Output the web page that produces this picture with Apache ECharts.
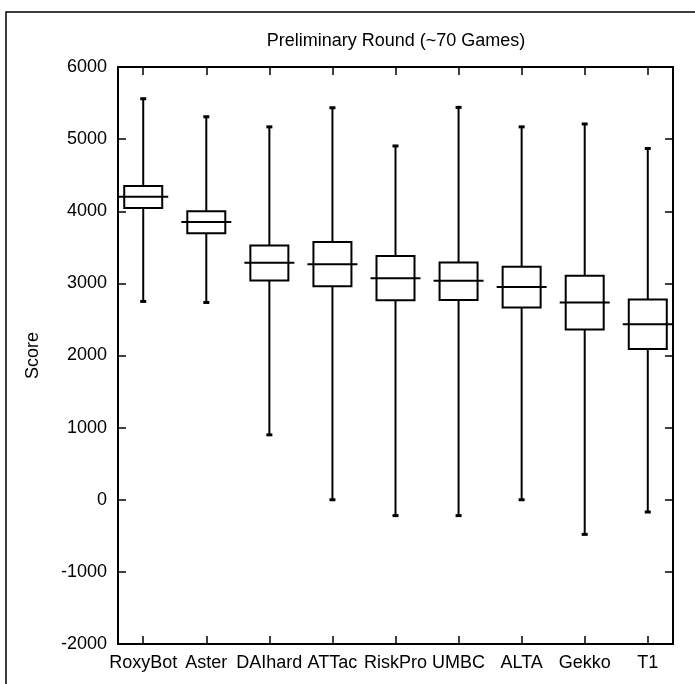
<!DOCTYPE html>
<html>
<head>
<meta charset="utf-8">
<script src="https://cdn.jsdelivr.net/npm/echarts@6/dist/echarts.min.js"></script>
<style>
  html, body { margin: 0; padding: 0; background: #fff; }
  #chart { width: 695px; height: 684px; }
</style>
</head>
<body>
<div id="chart"></div>
<script>
// box stats, one entry per team
var teams = ['RoxyBot', 'Aster', 'DAIhard', 'ATTac', 'RiskPro', 'UMBC', 'ALTA', 'Gekko', 'T1'];
var minVals = [2750, 2735, 900, 0, -220, -220, 0, -480, -170];
var q1Vals = [4045, 3695, 3040, 2960, 2765, 2770, 2665, 2360, 2090];
var medVals = [4200, 3850, 3285, 3265, 3070, 3035, 2950, 2735, 2435];
var q3Vals = [4350, 4000, 3525, 3575, 3380, 3290, 3230, 3105, 2775];
var maxVals = [5560, 5310, 5170, 5435, 4905, 5440, 5170, 5210, 4870];
var yTicks = [-2000, -1000, 0, 1000, 2000, 3000, 4000, 5000, 6000];

var positions = teams.map(function (t, i) { return i + 1; });
var boxData = teams.map(function (t, i) {
  return [i + 1, minVals[i], q1Vals[i], medVals[i], q3Vals[i], maxVals[i]];
});

var font = 'Liberation Sans, Arial, Helvetica, sans-serif';
var chart = echarts.init(document.getElementById('chart'), null, { renderer: 'canvas' });

function renderBox(params, api) {
  var x = api.value(0);
  var pMin = api.coord([x, api.value(1)]);
  var pQ1 = api.coord([x, api.value(2)]);
  var pMed = api.coord([x, api.value(3)]);
  var pQ3 = api.coord([x, api.value(4)]);
  var pMax = api.coord([x, api.value(5)]);
  var cx = pMed[0];
  var half = 19, medHalf = 25, cap = 3;
  var ls = { stroke: '#000', lineWidth: 2, fill: null };
  return {
    type: 'group',
    children: [
      { type: 'line', shape: { x1: cx, y1: pMax[1], x2: cx, y2: pQ3[1] }, style: ls },
      { type: 'line', shape: { x1: cx, y1: pQ1[1], x2: cx, y2: pMin[1] }, style: ls },
      { type: 'line', shape: { x1: cx - cap, y1: pMax[1], x2: cx + cap, y2: pMax[1] }, style: { stroke: '#000', lineWidth: 3 } },
      { type: 'line', shape: { x1: cx - cap, y1: pMin[1], x2: cx + cap, y2: pMin[1] }, style: { stroke: '#000', lineWidth: 3 } },
      { type: 'rect', shape: { x: cx - half, y: pQ3[1], width: half * 2, height: pQ1[1] - pQ3[1] },
        style: { stroke: '#000', lineWidth: 2, fill: '#fff' } },
      { type: 'line', shape: { x1: cx - medHalf, y1: pMed[1], x2: cx + medHalf, y2: pMed[1] }, style: ls }
    ]
  };
}

var xAxisBase = {
  type: 'value',
  min: 0.6,
  max: 9.4,
  splitLine: { show: false },
  axisLine: { show: true, onZero: false, lineStyle: { color: '#000', width: 2 } },
  axisTick: { show: true, inside: true, length: 8, customValues: positions, lineStyle: { color: '#000', width: 1.5 } }
};

var yAxisBase = {
  type: 'value',
  min: -2000,
  max: 6000,
  interval: 1000,
  splitLine: { show: false },
  axisLine: { show: true, onZero: false, lineStyle: { color: '#000', width: 2 } },
  axisTick: { show: true, inside: true, length: 8, lineStyle: { color: '#000', width: 1.5 } }
};

var option = {
  backgroundColor: '#fff',
  animation: false,
  title: {
    text: 'Preliminary Round (~70 Games)',
    left: 396,
    top: 32,
    textAlign: 'center',
    padding: 0,
    textStyle: { color: '#000', fontFamily: font, fontSize: 18, fontWeight: 'normal' }
  },
  graphic: [
    { type: 'rect', z: -10, silent: true,
      shape: { x: 6, y: 12, width: 700, height: 700 },
      style: { fill: null, stroke: '#000', lineWidth: 1.5 } }
  ],
  grid: { left: 118, right: 22, top: 67, bottom: 40, containLabel: false },
  xAxis: [
    Object.assign({}, xAxisBase, {
      position: 'bottom',
      axisLabel: {
        show: true,
        customValues: positions,
        color: '#000',
        fontFamily: font,
        fontSize: 18,
        margin: 10,
        formatter: function (v) { return teams[Math.round(v) - 1] || ''; }
      }
    }),
    Object.assign({}, xAxisBase, { position: 'top', axisLabel: { show: false } })
  ],
  yAxis: [
    Object.assign({}, yAxisBase, {
      position: 'left',
      name: 'Score',
      nameLocation: 'middle',
      nameRotate: 90,
      nameGap: 76,
      nameTextStyle: { color: '#000', fontFamily: font, fontSize: 18 },
      axisLabel: {
        show: true,
        color: '#000',
        fontFamily: font,
        fontSize: 18,
        margin: 11,
        customValues: yTicks,
        formatter: function (v) { return String(v); }
      }
    }),
    Object.assign({}, yAxisBase, { position: 'right', axisLabel: { show: false } })
  ],
  series: [
    {
      type: 'custom',
      xAxisIndex: 0,
      yAxisIndex: 0,
      renderItem: renderBox,
      encode: { x: 0, y: [1, 2, 3, 4, 5] },
      data: boxData,
      clip: false
    }
  ]
};

chart.setOption(option);
</script>
</body>
</html>
